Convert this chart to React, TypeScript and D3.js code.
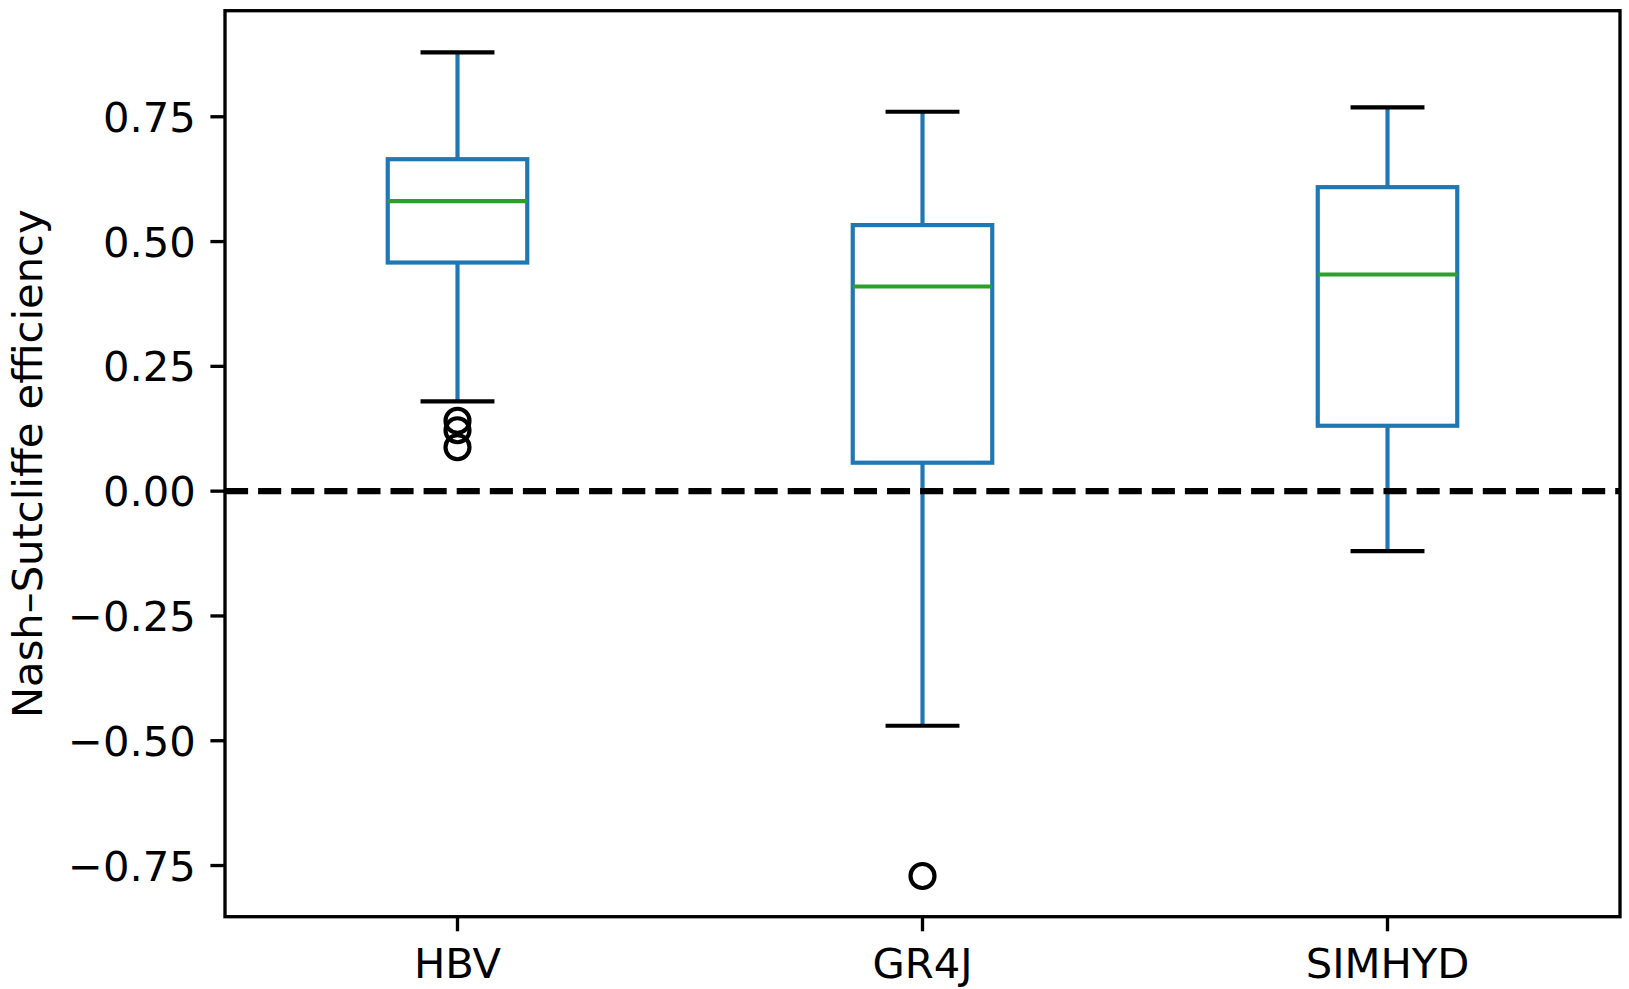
import React from "react";
import * as d3 from "d3";

const categories = ["HBV", "GR4J", "SIMHYD"];
const lowerWhisker = [0.18, -0.47, -0.12];
const q1 = [0.458, 0.057, 0.131];
const median = [0.581, 0.41, 0.434];
const q3 = [0.665, 0.533, 0.609];
const upperWhisker = [0.879, 0.76, 0.769];
const outliers: number[][] = [[0.141, 0.122, 0.088], [-0.771], []];
const yTicks = [-0.75, -0.5, -0.25, 0, 0.25, 0.5, 0.75];
const yLabel = "Nash–Sutcliffe efficiency";

const W = 1629;
const H = 989;
const left = 225;
const right = 1620;
const top = 10.7;
const bottom = 916.7;
const FONT = "'DejaVu Sans', sans-serif";
const FS = 41.7;
const BLUE = "#1f77b4";
const GREEN = "#2ca02c";

export default function App() {
  const x = d3.scaleLinear().domain([0.5, 3.5]).range([left, right]);
  const y = d3.scaleLinear().domain([-0.8525, 0.9625]).range([bottom, top]);
  const fmt = (v: number) => {
    const s = d3.format(".2f")(Math.abs(v));
    return v < 0 ? "\u2212" + s : s;
  };
  const boxHalf = x(1.15) - x(1);
  const capHalf = x(1.075) - x(1);
  const tickLen = 14.6;
  const pad = 14.6;
  const lw = 4.17;

  return (
    <svg
      width={W}
      height={H}
      style={{ position: "fixed", left: 0, top: 0, background: "#fff" }}
      fontFamily={FONT}
    >
      <rect x={0} y={0} width={W} height={H} fill="#fff" />
      {categories.map((c, i) => {
        const cx = x(i + 1);
        return (
          <g key={c}>
            <rect
              x={cx - boxHalf}
              y={y(q3[i])}
              width={boxHalf * 2}
              height={y(q1[i]) - y(q3[i])}
              fill="none"
              stroke={BLUE}
              strokeWidth={lw}
            />
            <line x1={cx} x2={cx} y1={y(q1[i])} y2={y(lowerWhisker[i])} stroke={BLUE} strokeWidth={lw} />
            <line x1={cx} x2={cx} y1={y(q3[i])} y2={y(upperWhisker[i])} stroke={BLUE} strokeWidth={lw} />
            <line x1={cx - capHalf} x2={cx + capHalf} y1={y(lowerWhisker[i])} y2={y(lowerWhisker[i])} stroke="#000" strokeWidth={lw} strokeLinecap="square" />
            <line x1={cx - capHalf} x2={cx + capHalf} y1={y(upperWhisker[i])} y2={y(upperWhisker[i])} stroke="#000" strokeWidth={lw} strokeLinecap="square" />
            <line x1={cx - boxHalf} x2={cx + boxHalf} y1={y(median[i])} y2={y(median[i])} stroke={GREEN} strokeWidth={lw} />
            {outliers[i].map((v, j) => (
              <circle key={j} cx={cx} cy={y(v)} r={12} fill="none" stroke="#000" strokeWidth={lw} />
            ))}
          </g>
        );
      })}
      <line x1={left} x2={right} y1={y(0)} y2={y(0)} stroke="#000" strokeWidth={6.25} strokeDasharray="23.1 10" />
      <rect x={left} y={top} width={right - left} height={bottom - top} fill="none" stroke="#000" strokeWidth={3.33} />
      {yTicks.map((t) => (
        <g key={t}>
          <line x1={left - tickLen} x2={left} y1={y(t)} y2={y(t)} stroke="#000" strokeWidth={3.33} />
          <text x={left - tickLen - pad} y={y(t)} dy="0.36em" textAnchor="end" fontSize={FS} fill="#000">
            {fmt(t)}
          </text>
        </g>
      ))}
      {categories.map((c, i) => (
        <g key={c}>
          <line x1={x(i + 1)} x2={x(i + 1)} y1={bottom} y2={bottom + tickLen} stroke="#000" strokeWidth={3.33} />
          <text x={x(i + 1)} y={bottom + tickLen + pad} dy="0.76em" textAnchor="middle" fontSize={FS} fill="#000">
            {c}
          </text>
        </g>
      ))}
      <text
        transform={`translate(41.7, ${(top + bottom) / 2}) rotate(-90)`}
        textAnchor="middle"
        fontSize={FS}
        fill="#000"
      >
        {yLabel}
      </text>
    </svg>
  );
}
